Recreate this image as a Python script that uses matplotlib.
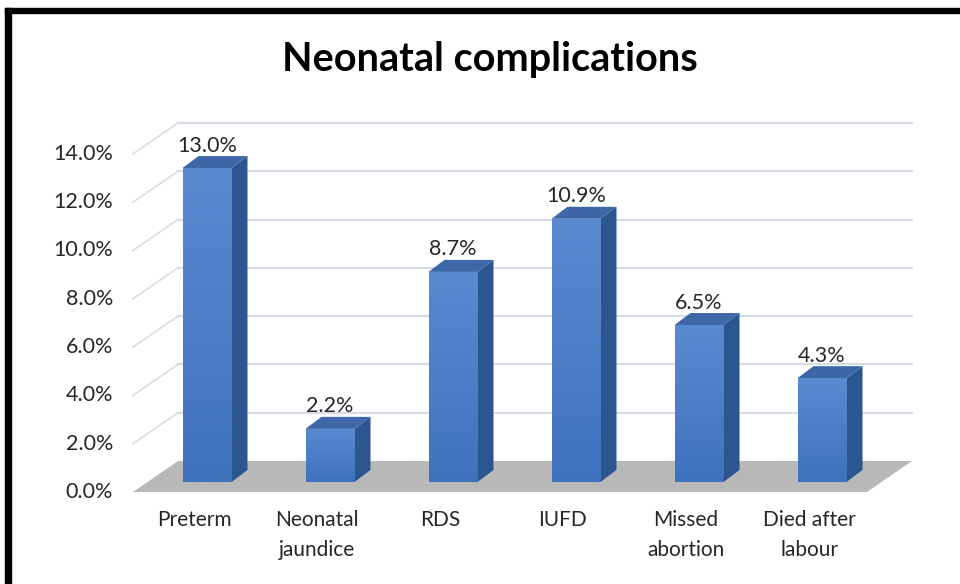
import matplotlib
matplotlib.use("Agg")
import matplotlib.pyplot as plt
from matplotlib.patches import Polygon, Rectangle
import numpy as np

categories = ["Preterm", "Neonatal\njaundice", "RDS", "IUFD", "Missed\nabortion", "Died after\nlabour"]
values = [13.0, 2.2, 8.7, 10.9, 6.5, 4.3]
yticks = [0, 2, 4, 6, 8, 10, 12, 14]
title = "Neonatal complications"

FONT = ["Lato", "DejaVu Sans"]
plt.rcParams['font.family'] = FONT

W, H = 960, 584
X0, Y0 = 207, 482        # pixel of category 0 centre / value 0 at bar front
PX_X, PX_Y = 123, 24.15  # pixels per category / per percent

def px(x, y):
    return ((x - X0) / PX_X, (Y0 - y) / PX_Y)

fig = plt.figure(figsize=(W / 100, H / 100), dpi=100)
ax = fig.add_axes([0, 0, 1, 1])
ax.set_xlim((0 - X0) / PX_X, (W - X0) / PX_X)
ax.set_ylim((Y0 - H) / PX_Y, Y0 / PX_Y)
ax.axis('off')

# frame (top and left black borders)
fig.patches.append(Rectangle((5 / W, 0), 6 / W, 1 - 8 / H, transform=fig.transFigure,
                             color='black', zorder=10))
fig.patches.append(Rectangle((5 / W, 1 - 13 / H), 1, 5 / H, transform=fig.transFigure,
                             color='black', zorder=10))

# 3D geometry (in data units)
fx, fy = px(133, 492)    # front-left floor corner
bx, by = px(178, 461)    # back-left floor corner
rx, _ = px(912, 461)     # back-right x
dxw, dyw = bx - fx, by - fy
grid_c = '#d6dce6'

# floor
floor = Polygon([(fx, fy), (rx - dxw, fy), (rx, by), (bx, by)], closed=True,
                facecolor='#b8b8b8', edgecolor='none', zorder=1)
ax.add_patch(floor)

TXT = '#262626'
for t in yticks:
    if t > 0:
        ax.plot([fx, bx], [fy + t, by + t], color='#dadde3', lw=1.3, zorder=0.5)
        ax.plot([bx, rx], [by + t, by + t], color=grid_c, lw=1.5, zorder=0.5)
    ax.text(px(113, 0)[0], fy + t, f"{t:.1f}%", ha='right', va='center',
            fontsize=15.5, color=TXT)

# bars
xs = np.arange(len(values))
bw = 49 / PX_X
ddx, ddy = 16 / PX_X, 12 / PX_Y
grad = np.linspace(0, 1, 256).reshape(-1, 1)
cmap = matplotlib.colors.LinearSegmentedColormap.from_list('bf', ['#3f72bd', '#5a8ad0'])
bars = ax.bar(xs, values, width=bw, color='#4a7dc4', zorder=3, edgecolor='none')
for x, v, b in zip(xs, values, bars):
    l, r = x - bw / 2, x + bw / 2
    side = Polygon([(r, 0), (r + ddx, ddy), (r + ddx, v + ddy), (r, v)],
                   facecolor='#2c5690', edgecolor='none', zorder=3)
    top = Polygon([(l, v), (r, v), (r + ddx, v + ddy), (l + ddx, v + ddy)],
                  facecolor='#3d67a6', edgecolor='none', zorder=3)
    ax.add_patch(side)
    ax.add_patch(top)
    im = ax.imshow(grad, extent=(l, r, 0, v), origin='lower', cmap=cmap,
                   aspect='auto', zorder=3.1, interpolation='bilinear')
    im.set_clip_path(b)
    ax.text(x, v + 0.93, f"{v:.1f}%", ha='center', va='center',
            fontsize=15.5, color=TXT, zorder=5)

# category labels
lab_off = 13 / PX_X
for x, c in zip(xs, categories):
    ax.text(x - lab_off, px(0, 510)[1], c, ha='center', va='top', fontsize=15,
            color=TXT, linespacing=1.65)

fig.text(490 / W, 1 - 60 / H, title, ha='center', va='center', fontsize=28.5,
         fontweight='bold', color='black')

ax.set_xlim((0 - X0) / PX_X, (W - X0) / PX_X)
ax.set_ylim((Y0 - H) / PX_Y, Y0 / PX_Y)
fig.savefig("out.png", dpi=100, facecolor='white')
